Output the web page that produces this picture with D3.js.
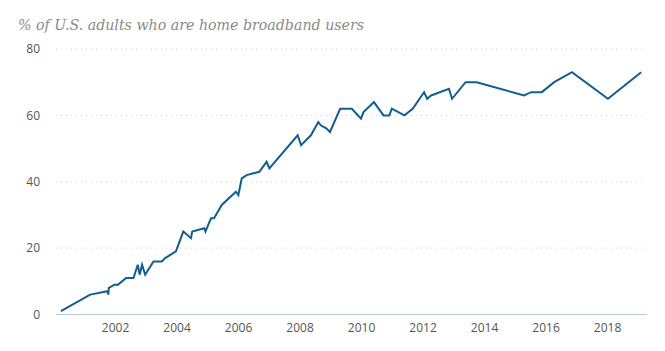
<!DOCTYPE html>
<html>
<head>
<meta charset="utf-8">
<script src="https://cdn.jsdelivr.net/npm/d3@7"></script>
<style>
  html, body { margin: 0; padding: 0; background: #fff; }
  svg { display: block; }
</style>
</head>
<body>
<svg id="chart" width="665" height="351"></svg>
<script>
// Survey dates (decimal years) and % of U.S. adults with home broadband
const years = [2000.24, 2001.19, 2001.75, 2001.78, 2001.80, 2001.98, 2002.10, 2002.36, 2002.60,
  2002.74, 2002.80, 2002.88, 2002.98, 2003.25, 2003.52, 2003.63, 2003.98, 2004.22, 2004.47,
  2004.51, 2004.90, 2004.94, 2005.12, 2005.22, 2005.47, 2005.93, 2006.01, 2006.12, 2006.28,
  2006.69, 2006.93, 2007.02, 2007.94, 2008.05, 2008.37, 2008.61, 2008.69, 2008.88, 2008.99,
  2009.32, 2009.70, 2010.00, 2010.08, 2010.42, 2010.73, 2010.92, 2011.00, 2011.41, 2011.68,
  2012.05, 2012.15, 2012.28, 2012.86, 2012.96, 2013.40, 2013.76, 2015.30, 2015.53, 2015.88,
  2016.28, 2016.86, 2018.03, 2019.11];
const values = [1, 6, 7, 6, 8, 9, 9, 11, 11,
  15, 12, 15, 12, 16, 16, 17, 19, 25, 23,
  25, 26, 25, 29, 29, 33, 37, 36, 41, 42,
  43, 46, 44, 54, 51, 54, 58, 57, 56, 55,
  62, 62, 59, 61, 64, 60, 60, 62, 60, 62,
  67, 65, 66, 68, 65, 70, 70, 66, 67, 67,
  70, 73, 65, 73];
const yTicks = [0, 20, 40, 60, 80];
const xTicks = [2002, 2004, 2006, 2008, 2010, 2012, 2014, 2016, 2018];
const title = "% of U.S. adults who are home broadband users";

const data = years.map((t, i) => ({ t, v: values[i] }));

const svg = d3.select("#chart");
const x = d3.scaleLinear().domain([2000.08, 2019.3]).range([56, 647]);
const y = d3.scaleLinear().domain([0, 80]).range([314.5, 49]);

// Title
svg.append("text")
  .attr("x", 18).attr("y", 30)
  .attr("font-family", "Georgia, 'DejaVu Serif', serif")
  .attr("font-style", "italic")
  .attr("font-size", 14.2)
  .attr("fill", "#8a8a8a")
  .text(title);

// Gridlines
svg.append("g")
  .selectAll("line")
  .data(yTicks.filter(d => d > 0))
  .join("line")
  .attr("x1", x.range()[0]).attr("x2", x.range()[1] - 2)
  .attr("y1", d => y(d)).attr("y2", d => y(d))
  .attr("stroke", "#cfcfcf")
  .attr("stroke-width", 1)
  .attr("stroke-dasharray", "1,4");

// Baseline
svg.append("line")
  .attr("x1", x.range()[0]).attr("x2", x.range()[1])
  .attr("y1", y(0)).attr("y2", y(0))
  .attr("stroke", "#b9cbe4")
  .attr("stroke-width", 1);

// Y axis labels
const yAxis = d3.axisLeft(y).tickValues(yTicks).tickSize(0).tickPadding(0);
const gy = svg.append("g").attr("transform", "translate(40,0)").call(yAxis);
gy.select(".domain").remove();
gy.selectAll("text")
  .attr("font-family", "'Open Sans', sans-serif")
  .attr("font-size", 12)
  .attr("fill", "#555");

// X axis labels
const xAxis = d3.axisBottom(x).tickValues(xTicks).tickFormat(d3.format("d")).tickSize(0).tickPadding(0);
const gx = svg.append("g").attr("transform", "translate(0,323.5)").call(xAxis);
gx.select(".domain").remove();
gx.selectAll("text")
  .attr("font-family", "'Open Sans', sans-serif")
  .attr("font-size", 12)
  .attr("fill", "#555");

// Line
const line = d3.line().x(d => x(d.t)).y(d => y(d.v));
svg.append("path")
  .datum(data)
  .attr("d", line)
  .attr("fill", "none")
  .attr("stroke", "#0f5f8f")
  .attr("stroke-width", 2)
  .attr("stroke-linejoin", "miter")
  .attr("stroke-linecap", "butt");
</script>
</body>
</html>
